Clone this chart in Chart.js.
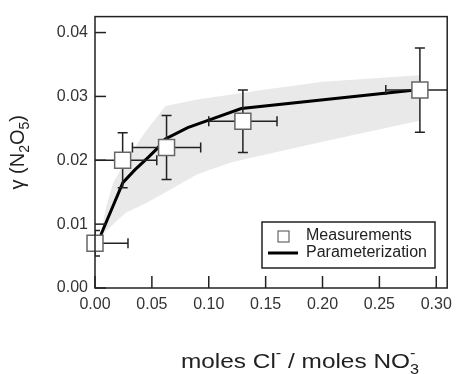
<!DOCTYPE html>
<html>
<head>
<meta charset="utf-8">
<script src="https://cdn.jsdelivr.net/npm/chart.js@4.4.0/dist/chart.umd.min.js"></script>
<style>
html, body { margin: 0; padding: 0; background: #fff; }
canvas { display: block; }
</style>
</head>
<body>
<canvas id="gammaChart" width="460" height="374"></canvas>
<script>
// Measurements (with error bars)
var measX = [0.000, 0.0243, 0.0629, 0.130, 0.2856];
var measY = [0.0070, 0.0200, 0.0220, 0.0261, 0.0310];
var errX = [0.029, 0.030, 0.030, 0.030, 0.030];
var errY = [0.0020, 0.0043, 0.0050, 0.0049, 0.0066];

// Parameterization curve
var paramX = [0.0051, 0.0245, 0.035, 0.047, 0.055, 0.0615, 0.0815, 0.100, 0.1286, 0.2856];
var paramY = [0.0083, 0.0165, 0.0185, 0.0205, 0.0219, 0.0233, 0.0251, 0.0263, 0.0281, 0.0311];

// Shaded uncertainty band
var bandX = [0.005, 0.010, 0.016, 0.027, 0.044, 0.062, 0.090, 0.120, 0.150, 0.200, 0.285];
var bandUpper = [0.0085, 0.0128, 0.0165, 0.0199, 0.0244, 0.0285, 0.0295, 0.0303, 0.0311, 0.0323, 0.0333];
var bandLower = [0.0080, 0.0090, 0.0100, 0.0118, 0.0132, 0.0150, 0.0178, 0.0197, 0.0209, 0.0229, 0.0262];

var xTicks = [0, 0.05, 0.10, 0.15, 0.20, 0.25, 0.30];
var yTicks = [0, 0.01, 0.02, 0.03, 0.04];

var FONT = "'Liberation Sans', Arial, sans-serif";
var INK = '#222';

function pts(xs, ys) {
    return xs.map(function (x, i) { return { x: x, y: ys[i] }; });
}

function line(ctx, x0, y0, x1, y1) {
    ctx.beginPath();
    ctx.moveTo(x0, y0);
    ctx.lineTo(x1, y1);
    ctx.stroke();
}

// text made of pieces with different sizes / offsets (sub- and superscripts)
function richWidth(ctx, parts) {
    var w = 0;
    parts.forEach(function (p) {
        ctx.font = p.size + 'px ' + FONT;
        if (!p.stack) w += ctx.measureText(p.t).width;
    });
    return w;
}
function richText(ctx, parts, x, y) {
    var cx = x, lastX = x;
    parts.forEach(function (p) {
        ctx.font = p.size + 'px ' + FONT;
        var at = p.stack ? lastX : cx;
        ctx.fillText(p.t, at, y + (p.dy || 0));
        if (!p.stack) { lastX = cx; cx += ctx.measureText(p.t).width; }
    });
}

var decor = {
    id: 'decor',
    beforeDatasetDraw: function (chart, args) {
        if (args.index !== 3) return;
        var ctx = chart.ctx, xs = chart.scales.x, ys = chart.scales.y, a = chart.chartArea;
        ctx.save();
        ctx.beginPath();
        ctx.rect(a.left, a.top, a.right - a.left, a.bottom - a.top);
        ctx.clip();
        ctx.strokeStyle = INK;
        ctx.lineWidth = 1.5;
        var cap = 5;
        measX.forEach(function (mx, i) {
            var px = xs.getPixelForValue(mx), py = ys.getPixelForValue(measY[i]);
            var x0 = xs.getPixelForValue(mx - errX[i]), x1 = xs.getPixelForValue(mx + errX[i]);
            var y0 = ys.getPixelForValue(measY[i] - errY[i]), y1 = ys.getPixelForValue(measY[i] + errY[i]);
            line(ctx, x0, py, x1, py);
            line(ctx, px, y0, px, y1);
            line(ctx, x0, py - cap, x0, py + cap);
            line(ctx, x1, py - cap, x1, py + cap);
            line(ctx, px - cap, y0, px + cap, y0);
            line(ctx, px - cap, y1, px + cap, y1);
        });
        ctx.restore();
    },
    afterDraw: function (chart) {
        var ctx = chart.ctx, xs = chart.scales.x, ys = chart.scales.y, a = chart.chartArea;
        ctx.save();
        ctx.strokeStyle = INK;
        ctx.lineWidth = 1.5;
        ctx.strokeRect(a.left, a.top, a.right - a.left, a.bottom - a.top);
        // inward tick marks
        yTicks.forEach(function (v) {
            var py = ys.getPixelForValue(v);
            line(ctx, a.left, py, a.left + 11, py);
        });
        xTicks.forEach(function (v) {
            var px = xs.getPixelForValue(v);
            line(ctx, px, a.bottom, px, a.bottom - 12);
        });

        // legend
        var lx = 262, ly = 222, lw = 173, lh = 46;
        ctx.fillStyle = '#fff';
        ctx.fillRect(lx, ly, lw, lh);
        ctx.strokeRect(lx, ly, lw, lh);
        ctx.strokeStyle = '#666';
        ctx.lineWidth = 1.2;
        ctx.fillRect(lx + 16, ly + 9, 11, 11);
        ctx.strokeRect(lx + 16, ly + 9, 11, 11);
        ctx.strokeStyle = '#000';
        ctx.lineWidth = 3;
        line(ctx, lx + 6, ly + 31, lx + 36, ly + 31);
        ctx.fillStyle = INK;
        ctx.font = '16px ' + FONT;
        ctx.textBaseline = 'middle';
        ctx.textAlign = 'left';
        ctx.fillText('Measurements', lx + 44, ly + 14);
        ctx.fillText('Parameterization', lx + 44, ly + 31);

        // axis titles
        ctx.textBaseline = 'alphabetic';
        var xt = [
            { t: 'moles Cl', size: 21 },
            { t: '-', size: 14, dy: -10 },
            { t: ' / moles NO', size: 21 },
            { t: '3', size: 14, dy: 6 },
            { t: '-', size: 14, dy: -10, stack: true }
        ];
        var w = richWidth(ctx, xt);
        var stretch = 245 / (w + 6);
        ctx.save();
        ctx.translate(300, 368);
        ctx.scale(stretch, 1);
        richText(ctx, xt, -w / 2, 0);
        ctx.restore();

        var yt = [
            { t: '\u03b3 (N', size: 20 },
            { t: '2', size: 14, dy: 5 },
            { t: 'O', size: 20 },
            { t: '5', size: 14, dy: 5 },
            { t: ')', size: 20 }
        ];
        ctx.translate(24, (a.top + a.bottom) / 2);
        ctx.rotate(-Math.PI / 2);
        w = richWidth(ctx, yt);
        richText(ctx, yt, -w / 2, 0);
        ctx.restore();
    }
};

document.addEventListener('DOMContentLoaded', function () {
    var ctx = document.getElementById('gammaChart').getContext('2d');

    var chart = new Chart(ctx, {
        type: 'line',
        data: {
            datasets: [{
                label: 'band upper',
                data: pts(bandX, bandUpper),
                borderWidth: 0,
                borderColor: 'rgba(0,0,0,0)',
                backgroundColor: '#e9e9e9',
                pointRadius: 0,
                fill: '+1',
                order: 3
            }, {
                label: 'band lower',
                data: pts(bandX, bandLower),
                borderWidth: 0,
                borderColor: 'rgba(0,0,0,0)',
                pointRadius: 0,
                fill: false,
                order: 2
            }, {
                label: 'Parameterization',
                data: pts(paramX, paramY),
                borderColor: '#000',
                borderWidth: 3,
                pointRadius: 0,
                fill: false,
                order: 1
            }, {
                label: 'Measurements',
                data: pts(measX, measY),
                showLine: false,
                pointStyle: 'rect',
                pointRadius: 11.3,
                pointBackgroundColor: '#fff',
                pointBorderColor: '#666',
                pointBorderWidth: 1.5,
                clip: false,
                order: 0
            }]
        },
        options: {
            responsive: false,
            animation: false,
            layout: { padding: { top: 8, right: 4, left: 0, bottom: 0 } },
            plugins: {
                legend: { display: false },
                tooltip: { enabled: false }
            },
            scales: {
                x: {
                    type: 'linear',
                    min: 0,
                    max: 0.3096,
                    afterFit: function (s) { s.height = 86; },
                    afterBuildTicks: function (s) { s.ticks = xTicks.map(function (v) { return { value: v }; }); },
                    grid: { drawOnChartArea: false, drawTicks: false },
                    border: { display: false },
                    ticks: {
                        padding: 7,
                        color: '#333',
                        font: { family: FONT, size: 16 },
                        callback: function (v) { return v.toFixed(2); }
                    }
                },
                y: {
                    type: 'linear',
                    min: 0,
                    max: 0.0425,
                    afterFit: function (s) { s.width = 95; },
                    afterBuildTicks: function (s) { s.ticks = yTicks.map(function (v) { return { value: v }; }); },
                    grid: { drawOnChartArea: false, drawTicks: false },
                    border: { display: false },
                    ticks: {
                        padding: 7,
                        color: '#333',
                        font: { family: FONT, size: 16 },
                        callback: function (v) { return v.toFixed(2); }
                    }
                }
            }
        },
        plugins: [decor]
    });
});
</script>
</body>
</html>
